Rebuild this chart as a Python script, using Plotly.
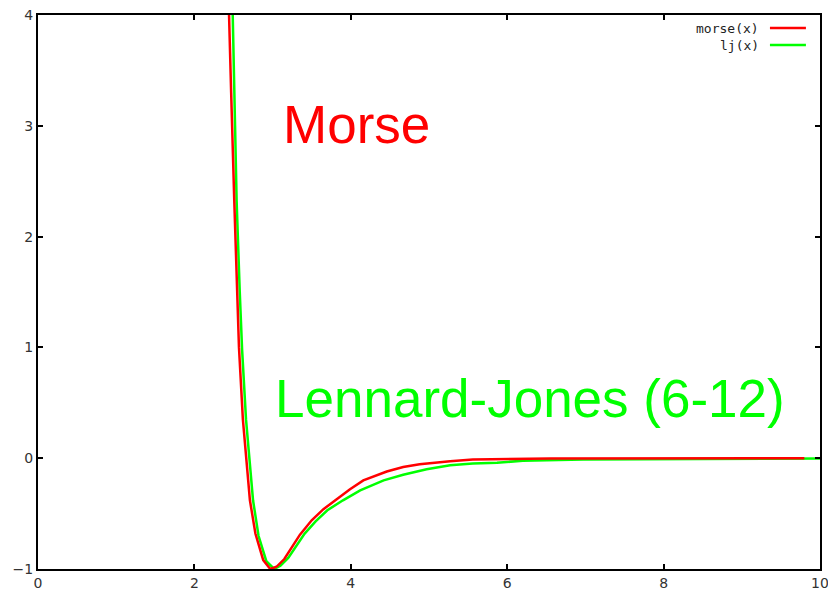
import plotly.graph_objects as go

# Values
morse_x = [2.42, 2.44, 2.47, 2.51, 2.54, 2.57, 2.62, 2.66, 2.71, 2.78, 2.88, 2.97, 3.05,
           3.15, 3.25, 3.35, 3.50, 3.65, 3.82, 3.99, 4.16, 4.46, 4.67, 4.88, 5.27, 5.56, 6.55, 9.80]
morse_y = [4.6, 4.0, 3.3, 2.32, 1.65, 1.0, 0.35, 0.0, -0.38, -0.68, -0.92, -1.0, -0.98,
           -0.91, -0.80, -0.69, -0.56, -0.46, -0.37, -0.28, -0.20, -0.12, -0.08, -0.055, -0.027,
           -0.012, -0.003, 0.0]

lj_x = [2.46, 2.49, 2.52, 2.54, 2.58, 2.61, 2.66, 2.70, 2.75, 2.82, 2.92, 3.02, 3.10,
        3.20, 3.30, 3.41, 3.55, 3.70, 3.90, 4.12, 4.42, 4.67, 4.97, 5.27, 5.56, 5.87, 6.20,
        6.97, 10.0]
lj_y = [4.6, 4.0, 3.0, 2.32, 1.5, 0.98, 0.35, 0.0, -0.38, -0.70, -0.93, -1.0, -0.97,
        -0.90, -0.79, -0.68, -0.57, -0.47, -0.38, -0.29, -0.20, -0.15, -0.10, -0.063, -0.048,
        -0.040, -0.024, -0.012, -0.003]

series_names = ["morse(x)", "lj(x)"]
x_ticks = [0, 2, 4, 6, 8, 10]
y_ticks = [-1, 0, 1, 2, 3, 4]

RED = "#ff0000"
GREEN = "#00ff00"

fig = go.Figure()
fig.add_trace(go.Scatter(x=lj_x, y=lj_y, mode="lines", name=series_names[1],
                         line=dict(color=GREEN, width=2.5), showlegend=False))
fig.add_trace(go.Scatter(x=morse_x, y=morse_y, mode="lines", name=series_names[0],
                         line=dict(color=RED, width=2.5), showlegend=False))

# manual gnuplot-style legend (text right-aligned, sample line to the right)
leg_font = dict(family="DejaVu Sans Mono", size=13, color="#222222")
for name, color, yp in [(series_names[0], RED, 0.9765), (series_names[1], GREEN, 0.9458)]:
    fig.add_annotation(xref="paper", yref="paper", x=0.924, y=yp, text=name,
                       showarrow=False, xanchor="right", yanchor="middle", font=leg_font)
    fig.add_shape(type="line", xref="paper", yref="paper", x0=0.936, x1=0.982, y0=yp, y1=yp,
                  line=dict(color=color, width=2.5))

fig.add_annotation(x=4.07, y=3.01, text="Morse", showarrow=False,
                   font=dict(family="Liberation Sans, Arial", size=53, color=RED))
fig.add_annotation(x=6.29, y=0.54, text="Lennard-Jones (6-12)", showarrow=False,
                   font=dict(family="Liberation Sans, Arial", size=53, color=GREEN))

axis_common = dict(showline=True, linecolor="black", linewidth=2, mirror="ticks",
                   ticks="inside", ticklen=5, tickwidth=2, tickcolor="black",
                   showgrid=False, zeroline=False, automargin=False,
                   ticklabeloverflow="allow",
                   tickfont=dict(family="DejaVu Sans", size=14, color="#333333"))

fig.update_xaxes(range=[0, 10], tickvals=x_ticks, **axis_common)
fig.update_yaxes(range=[-1, 4], tickvals=y_ticks, **axis_common)

fig.update_layout(width=828, height=593, margin=dict(l=38, r=8, t=15, b=24),
                  paper_bgcolor="white", plot_bgcolor="white")

fig.write_html("out.html", config={"displayModeBar": False},
               post_script="document.body.style.margin='0';document.body.style.overflow='hidden';")
